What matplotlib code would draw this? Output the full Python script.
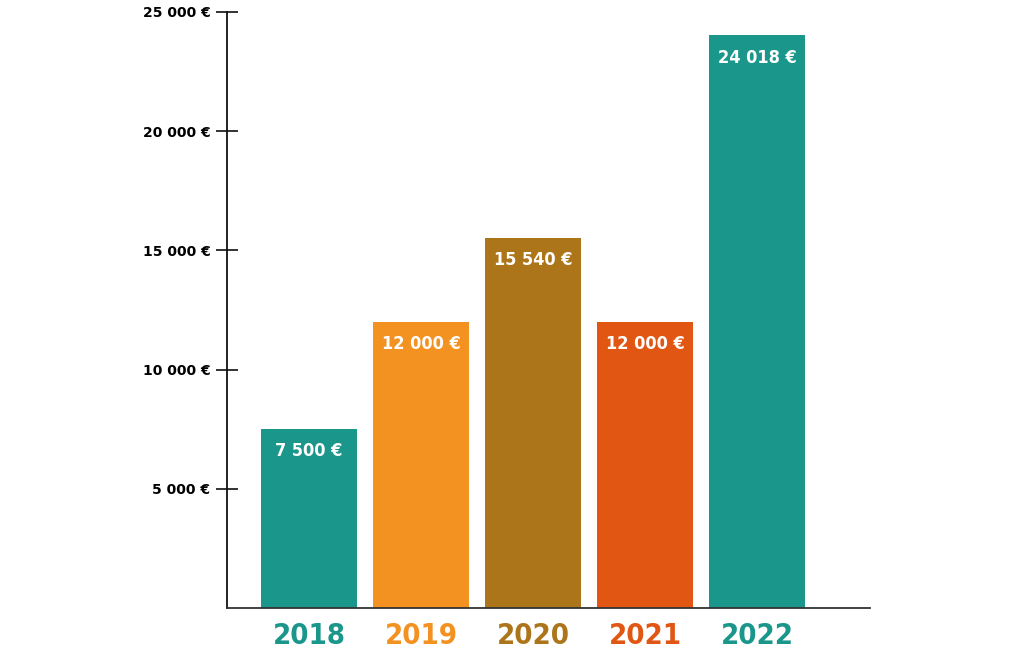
import matplotlib
matplotlib.use("Agg")
import matplotlib.pyplot as plt

years = ["2018", "2019", "2020", "2021", "2022"]
values = [7500, 12000, 15540, 12000, 24018]
value_labels = ["7 500 €", "12 000 €", "15 540 €", "12 000 €", "24 018 €"]
colors = ["#1a968a", "#f39121", "#ad7519", "#e05612", "#1a968a"]
yticks = [5000, 10000, 15000, 20000, 25000]
ytick_labels = ["5 000 €", "10 000 €", "15 000 €", "20 000 €", "25 000 €"]

fig = plt.figure(figsize=(10.25, 6.57), dpi=100)
ax = fig.add_axes([227/1025, (657-608)/657, (870-227)/1025, (608-12)/657])

x = list(range(len(years)))
ax.bar(x, values, width=0.857, color=colors, zorder=2)
ax.set_xlim(-0.732, 5.01)
ax.set_ylim(0, 25000)

for xi, v, lab in zip(x, values, value_labels):
    ax.annotate(lab, (xi, v), xytext=(0, -16), textcoords="offset points",
                ha="center", va="center", color="white",
                fontsize=13, fontweight="bold", fontstretch="condensed",
                family="DejaVu Sans")

ax.set_xticks(x)
ax.set_xticklabels(years, fontsize=21, fontweight="bold", fontstretch="condensed",
                   family="DejaVu Sans")
for lbl, c in zip(ax.get_xticklabels(), colors):
    lbl.set_color(c)
ax.tick_params(axis="x", length=0, pad=10)

ax.set_yticks(yticks)
ax.set_yticklabels(ytick_labels, fontsize=10, fontweight="bold", family="DejaVu Sans")
ax.tick_params(axis="y", direction="inout", length=16, width=1.2, pad=4, color="#111111")

for s in ["top", "right"]:
    ax.spines[s].set_visible(False)
ax.spines["left"].set_color("#111111")
ax.spines["bottom"].set_color("#333333")
ax.spines["left"].set_linewidth(1.3)
ax.spines["bottom"].set_linewidth(1.3)

fig.savefig("out.png", dpi=100)
